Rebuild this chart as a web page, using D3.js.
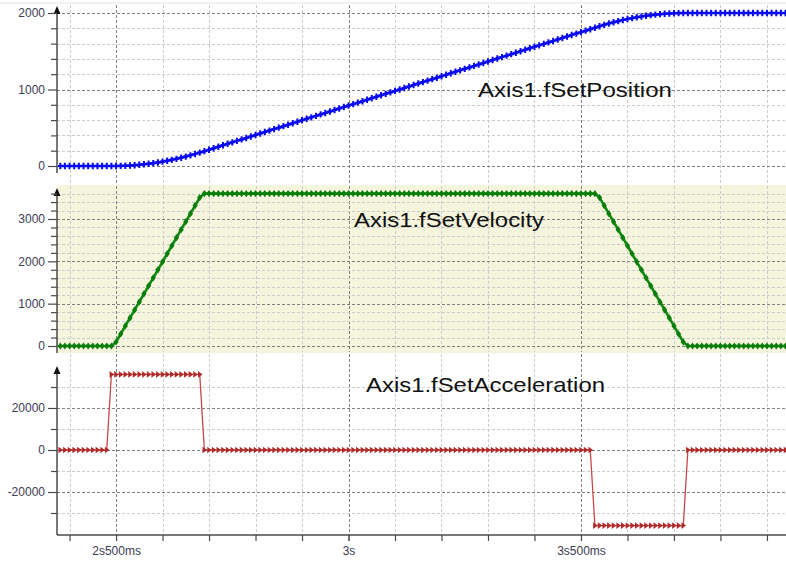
<!DOCTYPE html>
<html>
<head>
<meta charset="utf-8">
<script src="https://cdn.jsdelivr.net/npm/d3@7"></script>
<style>
  html, body { margin: 0; padding: 0; background: #ffffff; }
  svg { display: block; font-family: "Liberation Sans", Arial, sans-serif; }
</style>
</head>
<body>
<svg id="chart" width="786" height="561"></svg>
<script>
// ---------- DATA ----------
const times = [
  2.38,2.39,2.40,2.41,2.42,2.43,2.44,2.45,2.46,2.47,2.48,2.49,
  2.50,2.51,2.52,2.53,2.54,2.55,2.56,2.57,2.58,2.59,
  2.60,2.61,2.62,2.63,2.64,2.65,2.66,2.67,2.68,2.69,
  2.70,2.71,2.72,2.73,2.74,2.75,2.76,2.77,2.78,2.79,
  2.80,2.81,2.82,2.83,2.84,2.85,2.86,2.87,2.88,2.89,
  2.90,2.91,2.92,2.93,2.94,2.95,2.96,2.97,2.98,2.99,
  3.00,3.01,3.02,3.03,3.04,3.05,3.06,3.07,3.08,3.09,
  3.10,3.11,3.12,3.13,3.14,3.15,3.16,3.17,3.18,3.19,
  3.20,3.21,3.22,3.23,3.24,3.25,3.26,3.27,3.28,3.29,
  3.30,3.31,3.32,3.33,3.34,3.35,3.36,3.37,3.38,3.39,
  3.40,3.41,3.42,3.43,3.44,3.45,3.46,3.47,3.48,3.49,
  3.50,3.51,3.52,3.53,3.54,3.55,3.56,3.57,3.58,3.59,
  3.60,3.61,3.62,3.63,3.64,3.65,3.66,3.67,3.68,3.69,
  3.70,3.71,3.72,3.73,3.74,3.75,3.76,3.77,3.78,3.79,
  3.80,3.81,3.82,3.83,3.84,3.85,3.86,3.87,3.88,3.89,
  3.90,3.91,3.92,3.93,3.94
];

const setPosition = [
  0,0,0,0,0,0,0,0,0,0,0,0,
  0.2,1.3,3.4,6.6,10.7,15.9,22.0,29.2,37.4,46.6,
  56.8,68.0,80.3,93.5,107.8,123.0,139.3,156.6,174.9,194.0,
  213.2,232.4,251.7,270.9,290.1,309.3,328.5,347.7,366.9,386.1,
  405.3,424.6,443.8,463.0,482.2,501.4,520.6,539.8,559.0,578.2,
  597.4,616.7,635.9,655.1,674.3,693.5,712.7,731.9,751.1,770.3,
  789.5,808.8,828.0,847.2,866.4,885.6,904.8,924.0,943.2,962.4,
  981.6,1000.9,1020.1,1039.3,1058.5,1077.7,1096.9,1116.1,1135.3,1154.5,
  1173.7,1193.0,1212.2,1231.4,1250.6,1269.8,1289.0,1308.2,1327.4,1346.6,
  1365.8,1385.1,1404.3,1423.5,1442.7,1461.9,1481.1,1500.3,1519.5,1538.7,
  1557.9,1577.2,1596.4,1615.6,1634.8,1654.0,1673.2,1692.4,1711.6,1730.8,
  1750.0,1769.3,1788.5,1807.7,1827.0,1845.2,1862.4,1878.6,1893.7,1907.9,
  1921.0,1933.1,1944.3,1954.4,1963.5,1971.6,1978.6,1984.7,1989.8,1993.8,
  1996.8,1998.9,1999.9,2000,2000,2000,2000,2000,2000,2000,
  2000,2000,2000,2000,2000,2000,2000,2000,2000,2000,
  2000,2000,2000,2000,2000
];

const setVelocity = [
  0,0,0,0,0,0,0,0,0,0,0,0,
  95,284,474,663,853,1042,1232,1421,1611,1800,
  1989,2179,2368,2558,2747,2937,3126,3316,3505,3600,
  3600,3600,3600,3600,3600,3600,3600,3600,3600,3600,
  3600,3600,3600,3600,3600,3600,3600,3600,3600,3600,
  3600,3600,3600,3600,3600,3600,3600,3600,3600,3600,
  3600,3600,3600,3600,3600,3600,3600,3600,3600,3600,
  3600,3600,3600,3600,3600,3600,3600,3600,3600,3600,
  3600,3600,3600,3600,3600,3600,3600,3600,3600,3600,
  3600,3600,3600,3600,3600,3600,3600,3600,3600,3600,
  3600,3600,3600,3600,3600,3600,3600,3600,3600,3600,
  3600,3600,3600,3600,3505,3316,3126,2937,2747,2558,
  2368,2179,1989,1800,1611,1421,1232,1042,853,663,
  474,284,95,0,0,0,0,0,0,0,
  0,0,0,0,0,0,0,0,0,0,
  0,0,0,0,0
];

const setAcceleration = [
  0,0,0,0,0,0,0,0,0,0,0,36000,
  36000,36000,36000,36000,36000,36000,36000,36000,36000,36000,
  36000,36000,36000,36000,36000,36000,36000,36000,36000,0,
  0,0,0,0,0,0,0,0,0,0,
  0,0,0,0,0,0,0,0,0,0,
  0,0,0,0,0,0,0,0,0,0,
  0,0,0,0,0,0,0,0,0,0,
  0,0,0,0,0,0,0,0,0,0,
  0,0,0,0,0,0,0,0,0,0,
  0,0,0,0,0,0,0,0,0,0,
  0,0,0,0,0,0,0,0,0,0,
  0,0,0,-36000,-36000,-36000,-36000,-36000,-36000,-36000,
  -36000,-36000,-36000,-36000,-36000,-36000,-36000,-36000,-36000,-36000,
  -36000,-36000,-36000,0,0,0,0,0,0,0,
  0,0,0,0,0,0,0,0,0,0,
  0,0,0,0,0
];

const timeTickValues = [2.5, 3.0, 3.5];
const timeTickLabels = ["2s500ms", "3s", "3s500ms"];
const positionTicks = [0, 1000, 2000];
const velocityTicks = [0, 1000, 2000, 3000];
const accelerationTicks = [-20000, 0, 20000];
const seriesNames = ["Axis1.fSetPosition", "Axis1.fSetVelocity", "Axis1.fSetAcceleration"];

// ---------- LAYOUT ----------
const svg = d3.select("#chart");
const X0 = 57, X1 = 786;
const x = d3.scaleLinear().domain([2.373, 3.941]).range([X0, X1]);
const minorTimes = d3.range(2.4, 3.95, 0.1).map(v => Math.round(v * 10) / 10);

const panels = [
  { key: "pos", top: 4, bottom: 185, axisTop: 9, axisBottom: 173, bg: "#ffffff",
    y: d3.scaleLinear().domain([0, 2000]).range([166, 13]),
    major: positionTicks, minor: d3.range(0, 2001, 200), gridMinor: d3.range(0, 2001, 200),
    data: setPosition, color: "#0000ff", lw: 2.6, marker: "cross", mcolor: "#0a0af0",
    label: seriesNames[0], lx: 478, ly: 97, lw2: 194 },
  { key: "vel", top: 185, bottom: 353, axisTop: 191, axisBottom: 353, bg: "#f5f4dc",
    y: d3.scaleLinear().domain([0, 3000]).range([346, 219]),
    major: velocityTicks, minor: d3.range(0, 3601, 200), gridMinor: d3.range(0, 3601, 200),
    data: setVelocity, color: "#0c8a0c", lw: 2.6, marker: "diamond", mcolor: "#0a7d0a",
    label: seriesNames[1], lx: 354, ly: 227, lw2: 190 },
  { key: "acc", top: 353, bottom: 535, axisTop: 369, axisBottom: 535, bg: "#ffffff",
    y: d3.scaleLinear().domain([-20000, 20000]).range([492, 408]),
    major: accelerationTicks, minor: d3.range(-30000, 30001, 10000), gridMinor: d3.range(-30000, 30001, 10000),
    data: setAcceleration, color: "#c84848", lw: 1.3, marker: "tri", mcolor: "#b02a2a",
    label: seriesNames[2], lx: 366, ly: 392, lw2: 239 }
];

// top border line
svg.append("line").attr("x1", 0).attr("x2", 786).attr("y1", 3).attr("y2", 3)
  .attr("stroke", "#e4e4e4").attr("stroke-width", 1);

const defs = svg.append("defs");

panels.forEach((p, pi) => {
  const g = svg.append("g");
  g.append("rect").attr("x", X0).attr("y", p.top).attr("width", X1 - X0).attr("height", p.bottom - p.top)
    .attr("fill", p.bg);

  // vertical grid
  minorTimes.forEach(t => {
    const isMajor = timeTickValues.some(v => Math.abs(v - t) < 1e-6);
    g.append("line")
      .attr("x1", Math.round(x(t)) + 0.5).attr("x2", Math.round(x(t)) + 0.5)
      .attr("y1", p.key === "pos" ? 5 : p.top + 1).attr("y2", p.key === "acc" ? 535 : p.bottom - 1)
      .attr("stroke", isMajor ? "#808080" : "#cccccc")
      .attr("stroke-width", 1)
      .attr("stroke-dasharray", "3,2");
  });
  // horizontal grid
  p.gridMinor.forEach(v => {
    const isMajor = p.major.includes(v);
    const yy = Math.round(p.y(v)) + 0.5;
    g.append("line").attr("x1", X0).attr("x2", X1).attr("y1", yy).attr("y2", yy)
      .attr("stroke", isMajor ? "#808080" : "#cccccc")
      .attr("stroke-width", 1)
      .attr("stroke-dasharray", "3,2");
  });

  // series (clipped)
  const clipId = "clip" + pi;
  defs.append("clipPath").attr("id", clipId).append("rect")
    .attr("x", X0 + 1).attr("y", p.top).attr("width", X1 - X0).attr("height", p.bottom - p.top);
  const sg = g.append("g").attr("clip-path", `url(#${clipId})`);
  const pts = times.map((t, i) => [t, p.data[i]]);
  const line = d3.line().x(d => x(d[0])).y(d => p.y(d[1]));
  sg.append("path").attr("d", line(pts)).attr("fill", "none")
    .attr("stroke", p.color).attr("stroke-width", p.lw);

  const mk = sg.append("g");
  pts.forEach(d => {
    const cx = x(d[0]), cy = p.y(d[1]);
    if (p.marker === "cross") {
      mk.append("path").attr("d", `M${cx - 2.5},${cy}H${cx + 2.5}M${cx},${cy - 3.2}V${cy + 3.2}`)
        .attr("stroke", p.mcolor).attr("stroke-width", 2).attr("fill", "none");
    } else if (p.marker === "diamond") {
      mk.append("path").attr("d", `M${cx},${cy - 3.6}L${cx + 2.6},${cy}L${cx},${cy + 3.6}L${cx - 2.6},${cy}Z`)
        .attr("fill", p.mcolor);
    } else {
      mk.append("path").attr("d", `M${cx - 1.8},${cy - 3.3}L${cx + 2.8},${cy}L${cx - 1.8},${cy + 3.3}Z`)
        .attr("fill", p.mcolor);
    }
  });

  // y axis line + arrow
  g.append("line").attr("x1", X0).attr("x2", X0).attr("y1", p.axisTop).attr("y2", p.axisBottom)
    .attr("stroke", "#4a4a4a").attr("stroke-width", 1.5);
  g.append("path").attr("d", `M${X0},${p.axisTop - 3}L${X0 + 3.5},${p.axisTop + 5}L${X0 - 3.5},${p.axisTop + 5}Z`)
    .attr("fill", "#111");

  const axisMinor = d3.axisLeft(p.y).tickValues(p.minor.filter(v => !p.major.includes(v)))
    .tickSize(6).tickFormat("");
  const am = g.append("g").attr("transform", `translate(${X0},0)`).call(axisMinor);
  am.select(".domain").remove();
  am.selectAll(".tick line").attr("stroke", "#4a4a4a").attr("stroke-width", 1.2);

  const axisMajor = d3.axisLeft(p.y).tickValues(p.major).tickSize(9).tickPadding(3)
    .tickFormat(d => String(d));
  const aM = g.append("g").attr("transform", `translate(${X0},0)`).call(axisMajor);
  aM.select(".domain").remove();
  aM.selectAll(".tick line").attr("stroke", "#4a4a4a").attr("stroke-width", 1.2);
  aM.selectAll(".tick text").attr("font-size", 12).attr("fill", "#3c3c52")
    .attr("font-family", "'Liberation Sans', Arial, sans-serif");

  g.append("text").attr("x", p.lx).attr("y", p.ly).text(p.label)
    .attr("font-size", 21).attr("fill", "#111")
    .attr("textLength", p.lw2).attr("lengthAdjust", "spacingAndGlyphs");
});

// x axis
const xAxisMinor = d3.axisBottom(x).tickValues(minorTimes).tickSize(6).tickFormat("");
const xm = svg.append("g").attr("transform", "translate(0,535)").call(xAxisMinor);
xm.select(".domain").remove();
xm.selectAll(".tick line").attr("stroke", "#4a4a4a").attr("stroke-width", 1.2);
svg.append("line").attr("x1", X0).attr("x2", X1).attr("y1", 535).attr("y2", 535)
  .attr("stroke", "#4a4a4a").attr("stroke-width", 1.5);

const xAxisMajor = d3.axisBottom(x).tickValues(timeTickValues).tickSize(6).tickPadding(5)
  .tickFormat((d, i) => timeTickLabels[i]);
const xM = svg.append("g").attr("transform", "translate(0,535)").call(xAxisMajor);
xM.select(".domain").remove();
xM.selectAll(".tick line").attr("stroke", "#4a4a4a");
xM.selectAll(".tick text").attr("font-size", 12).attr("fill", "#3c3c52")
  .attr("font-family", "'Liberation Sans', Arial, sans-serif");
</script>
</body>
</html>
